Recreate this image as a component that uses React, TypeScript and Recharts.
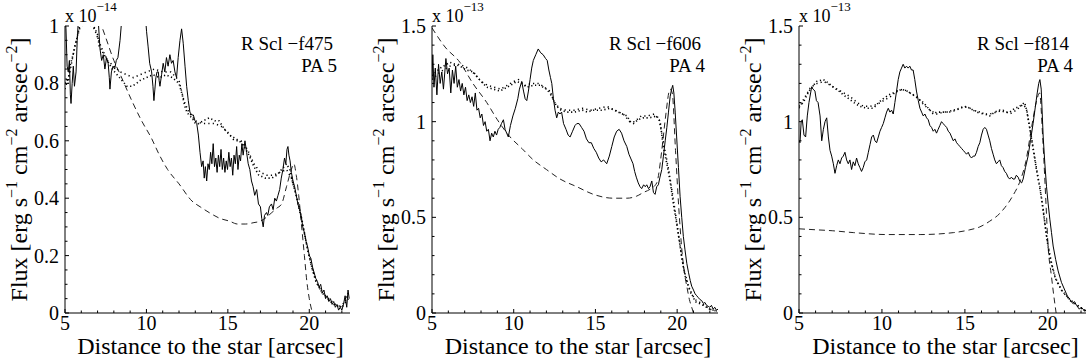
import { LineChart, Line, XAxis, YAxis } from "recharts";

const FONT = "'Liberation Serif', 'Times New Roman', serif";

// [distance arcsec, flux in units of the panel exponent]
const f475Observed: [number, number][] = [
  [5.0, 1.05], [5.06, 0.99], [5.13, 0.86], [5.2, 0.84], [5.27, 0.88], [5.33, 0.76], [5.37, 0.73], [5.44, 0.8],
  [5.51, 0.86], [5.58, 0.79], [5.68, 0.84], [5.75, 0.95], [5.82, 1.02], [6.2, 1.1], [6.8, 1.08], [7.05, 1.01],
  [7.15, 0.92], [7.25, 0.88], [7.35, 0.9], [7.45, 0.85], [7.55, 0.89], [7.65, 0.87], [7.72, 0.82], [7.76, 0.78],
  [7.85, 0.84], [7.95, 0.86], [8.05, 0.85], [8.15, 0.88], [8.25, 0.89], [8.38, 0.95], [8.48, 1.02], [9.0, 1.12],
  [9.9, 1.06], [10.01, 0.98], [10.1, 0.93], [10.2, 0.87], [10.32, 0.84], [10.4, 0.79], [10.46, 0.74], [10.52, 0.78],
  [10.58, 0.82], [10.65, 0.84], [10.73, 0.84], [10.78, 0.81], [10.83, 0.79], [10.93, 0.83], [11.03, 0.87], [11.13, 0.84],
  [11.23, 0.89], [11.33, 0.86], [11.44, 0.9], [11.54, 0.87], [11.64, 0.88], [11.75, 0.84], [11.85, 0.82], [11.95, 0.89],
  [12.06, 0.95], [12.16, 0.99], [12.26, 0.94], [12.37, 0.86], [12.47, 0.79], [12.57, 0.74], [12.67, 0.7], [12.78, 0.69],
  [12.88, 0.69], [12.98, 0.67], [13.09, 0.66], [13.19, 0.62], [13.29, 0.56], [13.39, 0.51], [13.48, 0.53], [13.55, 0.47],
  [13.62, 0.51], [13.7, 0.46], [13.78, 0.52], [13.86, 0.5], [13.94, 0.56], [14.02, 0.52], [14.1, 0.59], [14.18, 0.51],
  [14.26, 0.54], [14.34, 0.49], [14.42, 0.55], [14.5, 0.51], [14.58, 0.57], [14.66, 0.5], [14.74, 0.54], [14.82, 0.49],
  [14.9, 0.53], [14.98, 0.5], [15.06, 0.56], [15.14, 0.51], [15.22, 0.54], [15.3, 0.48], [15.38, 0.55], [15.46, 0.52],
  [15.54, 0.58], [15.62, 0.5], [15.7, 0.55], [15.78, 0.53], [15.86, 0.59], [15.94, 0.55], [16.05, 0.6], [16.15, 0.56],
  [16.25, 0.52], [16.35, 0.5], [16.45, 0.46], [16.55, 0.44], [16.65, 0.41], [16.77, 0.43], [16.88, 0.38], [17.0, 0.37],
  [17.08, 0.33], [17.17, 0.3], [17.25, 0.34], [17.37, 0.35], [17.45, 0.34], [17.55, 0.37], [17.68, 0.38], [17.78, 0.36],
  [17.88, 0.4], [17.98, 0.39], [18.08, 0.41], [18.18, 0.43], [18.28, 0.47], [18.38, 0.5], [18.48, 0.54], [18.56, 0.52],
  [18.63, 0.57], [18.69, 0.58], [18.75, 0.55], [18.82, 0.53], [18.9, 0.49], [19.0, 0.46], [19.1, 0.44], [19.2, 0.41],
  [19.3, 0.38], [19.4, 0.36], [19.5, 0.34], [19.6, 0.3], [19.7, 0.28], [19.8, 0.25], [19.9, 0.23], [20.0, 0.2],
  [20.1, 0.19], [20.2, 0.16], [20.3, 0.14], [20.4, 0.12], [20.5, 0.11], [20.6, 0.09], [20.7, 0.1], [20.8, 0.07],
  [20.9, 0.08], [21.0, 0.05], [21.1, 0.06], [21.2, 0.04], [21.3, 0.05], [21.4, 0.03], [21.5, 0.04], [21.6, 0.02],
  [21.7, 0.03], [21.8, 0.01], [21.9, 0.02], [22.0, 0.01], [22.1, 0.03], [22.2, 0.06], [22.3, 0.02], [22.38, 0.08],
  [22.45, 0.05],
];
const f475ModelA: [number, number][] = [
  [5.0, 0.8], [5.1, 0.82], [5.2, 0.8], [5.3, 0.86], [5.5, 0.9], [5.7, 0.95], [5.9, 1.0], [6.2, 1.03], [6.6, 1.02],
  [7.0, 0.97], [7.1, 0.93], [7.4, 0.9], [7.7, 0.87], [7.9, 0.85], [8.2, 0.83], [8.5, 0.81], [8.8, 0.79], [9.1, 0.79],
  [9.4, 0.8], [9.6, 0.81], [10.0, 0.82], [10.4, 0.83], [10.8, 0.82], [11.2, 0.83], [11.6, 0.82], [12.0, 0.8],
  [12.2, 0.76], [12.4, 0.71], [12.6, 0.69], [12.8, 0.68], [13.0, 0.66], [13.2, 0.66], [13.5, 0.67], [13.85, 0.68],
  [14.2, 0.67], [14.45, 0.67], [14.8, 0.64], [15.1, 0.62], [15.4, 0.61], [15.7, 0.6], [16.0, 0.58], [16.3, 0.55],
  [16.6, 0.51], [16.9, 0.48], [17.3, 0.47], [17.7, 0.47], [18.0, 0.48], [18.3, 0.5], [18.6, 0.52], [18.8, 0.5],
  [19.0, 0.45], [19.3, 0.39], [19.6, 0.31], [19.9, 0.22], [20.2, 0.15], [20.5, 0.1], [20.8, 0.07], [21.1, 0.05],
  [21.5, 0.03], [21.9, 0.02], [22.2, 0.04], [22.4, 0.07],
];
const f475ModelB: [number, number][] = [
  [5.0, 0.78], [5.3, 0.84], [5.6, 0.93], [5.9, 0.99], [6.3, 1.02], [6.8, 0.99], [7.2, 0.93], [7.6, 0.88], [8.0, 0.86],
  [8.4, 0.84], [8.8, 0.83], [9.2, 0.82], [9.6, 0.83], [10.0, 0.84], [10.5, 0.85], [11.0, 0.84], [11.5, 0.84],
  [12.0, 0.81], [12.3, 0.74], [12.6, 0.7], [13.0, 0.67], [13.4, 0.66], [13.8, 0.66], [14.2, 0.66], [14.6, 0.65],
  [15.0, 0.63], [15.4, 0.6], [15.8, 0.6], [16.2, 0.57], [16.6, 0.52], [17.0, 0.49], [17.4, 0.48], [17.8, 0.48],
  [18.2, 0.49], [18.6, 0.5], [18.9, 0.47], [19.2, 0.41], [19.5, 0.33], [19.8, 0.25], [20.1, 0.17], [20.4, 0.11],
  [20.8, 0.07], [21.2, 0.05], [21.6, 0.03], [22.0, 0.02], [22.4, 0.05],
];
const f475Shell: [number, number][] = [
  [6.5, 1.12], [7.0, 1.04], [7.5, 0.96], [8.0, 0.88], [8.4, 0.83], [9.1, 0.74], [9.7, 0.67], [10.3, 0.61],
  [10.8, 0.55], [11.3, 0.5], [12.0, 0.45], [12.8, 0.39], [13.3, 0.37], [13.85, 0.35], [14.5, 0.33], [15.1, 0.32],
  [15.6, 0.31], [16.1, 0.31], [16.6, 0.315], [17.0, 0.32], [17.4, 0.335], [17.7, 0.35], [18.0, 0.365], [18.3, 0.38],
  [18.6, 0.44], [18.9, 0.5], [19.05, 0.52], [19.2, 0.48], [19.35, 0.41], [19.5, 0.32], [19.7, 0.2], [19.85, 0.11],
  [20.0, 0.05], [20.15, 0.01], [20.2, 0],
];

const f606Observed: [number, number][] = [
  [5.0, 1.22], [5.05, 1.35], [5.12, 1.18], [5.2, 1.28], [5.3, 1.14], [5.4, 1.3], [5.5, 1.2], [5.6, 1.26], [5.7, 1.17],
  [5.85, 1.33], [5.95, 1.25], [6.05, 1.28], [6.15, 1.15], [6.25, 1.27], [6.35, 1.2], [6.45, 1.29], [6.55, 1.18],
  [6.65, 1.22], [6.75, 1.16], [6.85, 1.2], [6.95, 1.14], [7.05, 1.18], [7.15, 1.11], [7.25, 1.14], [7.35, 1.1],
  [7.45, 1.13], [7.55, 1.08], [7.65, 1.15], [7.75, 1.06], [7.85, 1.07], [7.95, 1.02], [8.05, 1.04], [8.15, 0.98],
  [8.25, 1.0], [8.35, 0.95], [8.45, 0.96], [8.55, 0.9], [8.65, 0.94], [8.75, 0.92], [8.85, 0.95], [8.95, 0.93],
  [9.05, 0.96], [9.15, 0.97], [9.25, 0.99], [9.37, 1.01], [9.47, 0.96], [9.57, 0.94], [9.67, 0.92], [9.8, 0.98],
  [9.95, 1.03], [10.1, 1.07], [10.25, 1.12], [10.35, 1.17], [10.49, 1.21], [10.6, 1.16], [10.7, 1.12], [10.8, 1.11],
  [10.9, 1.16], [11.0, 1.22], [11.1, 1.28], [11.2, 1.32], [11.35, 1.35], [11.5, 1.38], [11.65, 1.36], [11.8, 1.35],
  [11.95, 1.33], [12.05, 1.32], [12.15, 1.27], [12.25, 1.23], [12.33, 1.2], [12.43, 1.12], [12.53, 1.06], [12.63, 1.02],
  [12.73, 1.05], [12.83, 1.04], [12.93, 1.05], [13.05, 0.99], [13.2, 0.96], [13.33, 0.93], [13.45, 0.92], [13.6, 0.95],
  [13.75, 0.98], [13.86, 0.99], [14.0, 0.99], [14.15, 0.97], [14.3, 0.95], [14.45, 0.91], [14.6, 0.89], [14.75, 0.89],
  [14.9, 0.86], [15.05, 0.84], [15.2, 0.81], [15.35, 0.79], [15.5, 0.8], [15.69, 0.78], [15.85, 0.82], [16.0, 0.87],
  [16.15, 0.92], [16.3, 0.95], [16.45, 0.96], [16.6, 0.94], [16.75, 0.9], [16.92, 0.87], [17.05, 0.83], [17.15, 0.81],
  [17.3, 0.78], [17.4, 0.74], [17.5, 0.71], [17.62, 0.68], [17.73, 0.66], [17.83, 0.65], [17.95, 0.67], [18.05, 0.66],
  [18.14, 0.67], [18.25, 0.65], [18.34, 0.66], [18.45, 0.69], [18.55, 0.63], [18.65, 0.62], [18.75, 0.66],
  [18.85, 0.67], [18.95, 0.71], [19.06, 0.75], [19.16, 0.82], [19.27, 0.9], [19.37, 0.97], [19.47, 1.05], [19.57, 1.13],
  [19.66, 1.17], [19.73, 1.19], [19.8, 1.15], [19.88, 1.05], [19.97, 0.92], [20.08, 0.76], [20.18, 0.61], [20.28, 0.5],
  [20.38, 0.4], [20.48, 0.33], [20.59, 0.26], [20.7, 0.21], [20.8, 0.17], [20.89, 0.14], [21.0, 0.12], [21.1, 0.1],
  [21.2, 0.09], [21.3, 0.08], [21.4, 0.07], [21.5, 0.065], [21.6, 0.05], [21.7, 0.055], [21.8, 0.04], [21.9, 0.035],
  [22.0, 0.03], [22.1, 0.04], [22.2, 0.02], [22.3, 0.03], [22.4, 0.015], [22.5, 0.02],
];
const f606ModelA: [number, number][] = [
  [5.0, 1.24], [5.5, 1.28], [6.1, 1.31], [6.71, 1.29], [7.1, 1.27], [7.53, 1.26], [7.9, 1.22], [8.35, 1.18],
  [8.75, 1.17], [9.16, 1.16], [9.6, 1.18], [10.0, 1.2], [10.18, 1.21], [10.5, 1.2], [10.8, 1.18], [11.2, 1.19],
  [11.61, 1.19], [12.0, 1.17], [12.22, 1.16], [12.45, 1.11], [12.63, 1.08], [12.9, 1.06], [13.24, 1.05], [13.7, 1.05],
  [14.2, 1.06], [14.5, 1.05], [14.88, 1.06], [15.4, 1.06], [15.9, 1.07], [16.4, 1.05], [16.92, 1.03], [17.15, 1.0],
  [17.33, 0.99], [17.6, 1.01], [17.94, 1.02], [18.3, 1.02], [18.76, 1.03], [18.96, 1.0], [19.15, 0.87], [19.37, 0.78],
  [19.57, 0.69], [19.77, 0.57], [19.97, 0.47], [20.18, 0.35], [20.38, 0.24], [20.69, 0.14], [21.1, 0.06], [21.6, 0.04],
  [22.0, 0.02], [22.43, 0.01],
];
const f606ModelB: [number, number][] = [
  [5.0, 1.22], [5.5, 1.26], [6.1, 1.29], [6.7, 1.3], [7.2, 1.28], [7.6, 1.25], [8.0, 1.21], [8.4, 1.19], [8.8, 1.18],
  [9.2, 1.17], [9.6, 1.19], [10.0, 1.21], [10.3, 1.22], [10.7, 1.19], [11.1, 1.2], [11.5, 1.2], [11.9, 1.18],
  [12.2, 1.15], [12.5, 1.1], [12.8, 1.07], [13.2, 1.06], [13.7, 1.06], [14.2, 1.07], [14.7, 1.06], [15.2, 1.07],
  [15.7, 1.08], [16.2, 1.06], [16.7, 1.04], [17.1, 1.0], [17.4, 1.0], [17.8, 1.03], [18.2, 1.03], [18.6, 1.04],
  [18.9, 1.01], [19.1, 0.92], [19.3, 0.83], [19.5, 0.74], [19.7, 0.63], [19.9, 0.52], [20.1, 0.4], [20.3, 0.28],
  [20.5, 0.19], [20.8, 0.11], [21.1, 0.07], [21.5, 0.05], [22.0, 0.02], [22.4, 0.01],
];
const f606Shell: [number, number][] = [
  [5.0, 1.49], [5.8, 1.39], [6.71, 1.31], [7.5, 1.2], [8.35, 1.1], [9.0, 1.01], [9.78, 0.92], [10.5, 0.86],
  [11.2, 0.8], [12.0, 0.75], [12.84, 0.7], [13.86, 0.66], [14.88, 0.62], [16.1, 0.6], [16.92, 0.6], [17.5, 0.61],
  [17.94, 0.63], [18.4, 0.65], [18.75, 0.68], [19.06, 0.85], [19.27, 1.01], [19.57, 1.17], [19.7, 1.15], [19.9, 0.85],
  [20.1, 0.55], [20.3, 0.32], [20.5, 0.18], [20.59, 0.14], [20.75, 0.07], [20.89, 0.03], [21.0, 0],
];

const f814Observed: [number, number][] = [
  [5.0, 0.9], [5.06, 0.89], [5.13, 1.0], [5.2, 1.01], [5.3, 0.93], [5.4, 0.92], [5.5, 1.03], [5.6, 1.1], [5.7, 1.15],
  [5.76, 1.18], [5.85, 1.17], [5.96, 1.16], [6.05, 1.11], [6.15, 1.1], [6.27, 1.03], [6.37, 0.9], [6.47, 0.96],
  [6.57, 1.0], [6.67, 1.02], [6.77, 0.92], [6.87, 0.85], [6.97, 0.82], [7.07, 0.78], [7.17, 0.73], [7.27, 0.77],
  [7.37, 0.8], [7.47, 0.78], [7.57, 0.81], [7.67, 0.82], [7.77, 0.84], [7.87, 0.8], [7.97, 0.78], [8.07, 0.8],
  [8.17, 0.75], [8.27, 0.79], [8.37, 0.77], [8.47, 0.81], [8.57, 0.78], [8.67, 0.76], [8.77, 0.74], [8.87, 0.76],
  [8.97, 0.79], [9.08, 0.8], [9.18, 0.84], [9.28, 0.88], [9.38, 0.92], [9.48, 0.93], [9.58, 0.9], [9.68, 0.89],
  [9.78, 0.92], [9.88, 0.95], [9.98, 0.97], [10.08, 0.99], [10.18, 1.02], [10.28, 1.05], [10.38, 1.07], [10.48, 1.05],
  [10.58, 1.06], [10.68, 1.04], [10.78, 1.1], [10.88, 1.16], [10.98, 1.22], [11.08, 1.26], [11.18, 1.28], [11.28, 1.3],
  [11.38, 1.28], [11.48, 1.29], [11.58, 1.28], [11.68, 1.29], [11.78, 1.27], [11.88, 1.27], [11.98, 1.22], [12.08, 1.16],
  [12.19, 1.11], [12.29, 1.07], [12.39, 1.05], [12.49, 1.03], [12.59, 1.04], [12.69, 1.02], [12.79, 1.01], [12.89, 0.98],
  [12.99, 0.97], [13.09, 0.95], [13.19, 0.96], [13.29, 0.94], [13.39, 0.96], [13.49, 0.98], [13.59, 1.0], [13.69, 0.99],
  [13.79, 0.98], [13.9, 0.97], [14.0, 0.95], [14.1, 0.94], [14.2, 0.92], [14.3, 0.9], [14.4, 0.91], [14.5, 0.89],
  [14.6, 0.88], [14.7, 0.87], [14.8, 0.86], [14.9, 0.85], [15.0, 0.84], [15.1, 0.83], [15.2, 0.84], [15.3, 0.82],
  [15.4, 0.81], [15.5, 0.82], [15.6, 0.82], [15.7, 0.84], [15.8, 0.87], [15.9, 0.89], [16.0, 0.93], [16.1, 0.96],
  [16.2, 0.97], [16.3, 0.96], [16.4, 0.93], [16.5, 0.9], [16.6, 0.86], [16.7, 0.83], [16.8, 0.8], [16.9, 0.78],
  [17.0, 0.79], [17.1, 0.8], [17.2, 0.77], [17.3, 0.76], [17.4, 0.74], [17.5, 0.73], [17.6, 0.71], [17.7, 0.7],
  [17.8, 0.71], [17.9, 0.7], [18.0, 0.7], [18.1, 0.72], [18.21, 0.71], [18.3, 0.69], [18.42, 0.68], [18.51, 0.7],
  [18.65, 0.76], [18.81, 0.82], [18.95, 0.9], [19.11, 0.99], [19.25, 1.08], [19.36, 1.15], [19.45, 1.2], [19.52, 1.22],
  [19.6, 1.17], [19.72, 0.92], [19.82, 0.78], [19.92, 0.66], [20.02, 0.57], [20.12, 0.49], [20.22, 0.42], [20.32, 0.35],
  [20.47, 0.28], [20.62, 0.22], [20.82, 0.16], [21.02, 0.12], [21.17, 0.09], [21.33, 0.07], [21.5, 0.05], [21.6, 0.06],
  [21.73, 0.04], [21.9, 0.02], [22.0, 0.03], [22.13, 0.02], [22.2, 0.01], [22.3, 0.015],
];
const f814ModelA: [number, number][] = [
  [5.0, 1.08], [5.26, 1.1], [5.6, 1.16], [6.06, 1.21], [6.47, 1.22], [6.8, 1.2], [7.07, 1.18], [7.4, 1.16],
  [7.67, 1.14], [8.0, 1.12], [8.3, 1.1], [8.67, 1.08], [9.1, 1.07], [9.48, 1.07], [9.8, 1.1], [10.08, 1.12],
  [10.4, 1.14], [10.68, 1.15], [11.0, 1.16], [11.18, 1.17], [11.5, 1.16], [11.88, 1.14], [12.2, 1.12], [12.49, 1.1],
  [12.8, 1.07], [13.09, 1.04], [13.3, 1.05], [13.5, 1.05], [13.9, 1.05], [14.3, 1.06], [14.7, 1.07], [15.1, 1.08],
  [15.5, 1.06], [15.9, 1.05], [16.2, 1.04], [16.5, 1.03], [16.8, 1.05], [17.1, 1.06], [17.4, 1.05], [17.7, 1.05],
  [18.0, 1.07], [18.3, 1.08], [18.6, 1.1], [18.75, 1.05], [18.9, 0.97], [19.11, 0.86], [19.31, 0.75], [19.52, 0.66],
  [19.72, 0.54], [19.92, 0.4], [20.12, 0.29], [20.42, 0.19], [20.82, 0.12], [21.33, 0.07], [21.8, 0.04], [22.3, 0.01],
];
const f814ModelB: [number, number][] = [
  [5.0, 1.07], [5.3, 1.12], [5.7, 1.18], [6.1, 1.2], [6.5, 1.21], [6.9, 1.19], [7.3, 1.17], [7.7, 1.15], [8.1, 1.13],
  [8.5, 1.1], [8.9, 1.08], [9.3, 1.08], [9.7, 1.09], [10.1, 1.11], [10.5, 1.13], [10.9, 1.16], [11.3, 1.17],
  [11.7, 1.15], [12.1, 1.13], [12.5, 1.09], [12.9, 1.06], [13.3, 1.04], [13.7, 1.05], [14.1, 1.05], [14.5, 1.06],
  [14.9, 1.08], [15.3, 1.07], [15.7, 1.05], [16.1, 1.04], [16.5, 1.04], [16.9, 1.05], [17.3, 1.06], [17.7, 1.04],
  [18.1, 1.06], [18.5, 1.09], [18.7, 1.07], [18.95, 0.95], [19.2, 0.82], [19.4, 0.71], [19.6, 0.61], [19.8, 0.48],
  [20.0, 0.36], [20.25, 0.25], [20.5, 0.17], [20.9, 0.11], [21.4, 0.06], [21.9, 0.03], [22.3, 0.01],
];
const f814Shell: [number, number][] = [
  [5.0, 0.44], [6.0, 0.435], [7.0, 0.43], [8.3, 0.42], [10.3, 0.41], [12.3, 0.41], [14.3, 0.42], [15.3, 0.435],
  [15.9, 0.45], [16.5, 0.48], [17.1, 0.52], [17.4, 0.55], [17.87, 0.61], [18.37, 0.7], [18.67, 0.79], [19.0, 0.96],
  [19.3, 1.1], [19.5, 1.15], [19.7, 0.9], [19.9, 0.55], [20.0, 0.37], [20.22, 0.19], [20.42, 0.05], [20.5, 0],
];

const xTicks = [5, 6, 7, 8, 9, 10, 11, 12, 13, 14, 15, 16, 17, 18, 19, 20, 21, 22];
const yTicksBlue = [0, 0.05, 0.1, 0.15, 0.2, 0.25, 0.3, 0.35, 0.4, 0.45, 0.5, 0.55, 0.6, 0.65, 0.7, 0.75, 0.8, 0.85, 0.9, 0.95, 1];
const yTicksRed = [0, 0.1, 0.2, 0.3, 0.4, 0.5, 0.6, 0.7, 0.8, 0.9, 1, 1.1, 1.2, 1.3, 1.4, 1.5];

const toPts = (rows: [number, number][]) => rows.map(([d, v]) => ({ d, v }));
const isMajor = (v: number, step: number) => Math.abs(v / step - Math.round(v / step)) < 1e-6;

type Panel = {
  filter: string;
  pa: string;
  exp: string;
  left: number;
  width: number;
  yAxisWidth: number;
  rightMargin: number;
  xMax: number;
  yMax: number;
  yTicks: number[];
  yStep: number;
  observed: [number, number][];
  modelA: [number, number][];
  modelB: [number, number][];
  shell: [number, number][];
};

const panels: Panel[] = [
  {
    filter: "R Scl −f475", pa: "PA 5", exp: "−14", left: 0, width: 360, yAxisWidth: 65, rightMargin: 10,
    xMax: 22.5, yMax: 1, yTicks: yTicksBlue, yStep: 0.2,
    observed: f475Observed, modelA: f475ModelA, modelB: f475ModelB, shell: f475Shell,
  },
  {
    filter: "R Scl −f606", pa: "PA 4", exp: "−13", left: 360, width: 370, yAxisWidth: 72, rightMargin: 12,
    xMax: 22.5, yMax: 1.5, yTicks: yTicksRed, yStep: 0.5,
    observed: f606Observed, modelA: f606ModelA, modelB: f606ModelB, shell: f606Shell,
  },
  {
    filter: "R Scl −f814", pa: "PA 4", exp: "−13", left: 720, width: 367, yAxisWidth: 79, rightMargin: 1,
    xMax: 22.3, yMax: 1.5, yTicks: yTicksRed, yStep: 0.5,
    observed: f814Observed, modelA: f814ModelA, modelB: f814ModelB, shell: f814Shell,
  },
];

const H = 360;
const TOP = 26;
const X_AXIS_H = 47;

function FluxPanel({ p }: { p: Panel }) {
  const plotRight = p.width - p.rightMargin;

  const bottomTick = (props: any) => {
    const { x, y, payload } = props;
    const major = isMajor(payload.value, 5);
    return (
      <g>
        <line x1={x} x2={x} y1={y} y2={y - (major ? 4 : 2.5)} stroke="#000" />
        {major && (
          <text x={x} y={y + 17} textAnchor="middle" fontFamily={FONT} fontSize={20} fill="#000">
            {payload.value}
          </text>
        )}
      </g>
    );
  };
  const topTick = (props: any) => {
    const { x, y, payload } = props;
    const len = isMajor(payload.value, 5) ? 4 : 2.5;
    return <line x1={x} x2={x} y1={y} y2={y + len} stroke="#000" />;
  };
  const leftTick = (props: any) => {
    const { x, y, payload } = props;
    const major = isMajor(payload.value, p.yStep);
    return (
      <g>
        <line x1={x} x2={x + (major ? 4 : 2.5)} y1={y} y2={y} stroke="#000" />
        {major && (
          <text x={x - 6} y={y + 7} textAnchor="end" fontFamily={FONT} fontSize={20} fill="#000">
            {payload.value}
          </text>
        )}
      </g>
    );
  };
  const rightTick = (props: any) => {
    const { x, y, payload } = props;
    const len = isMajor(payload.value, p.yStep) ? 4 : 2.5;
    return <line x1={x} x2={x - len} y1={y} y2={y} stroke="#000" />;
  };

  const yLabel = (props: any) => {
    const vb = props.viewBox;
    const cy = vb.y + vb.height / 2;
    const bx = p.yAxisWidth - 38;
    return (
      <g fontFamily={FONT} fill="#000">
        <text transform={`translate(${bx},${cy}) rotate(-90)`} textAnchor="middle" fontSize={24}>
          Flux [erg s<tspan dy={-10} fontSize={16}>−1</tspan>
          <tspan dy={10}> cm</tspan>
          <tspan dy={-10} fontSize={16}>−2</tspan>
          <tspan dy={10}> arcsec</tspan>
          <tspan dy={-10} fontSize={16}>−2</tspan>
          <tspan dy={10}>]</tspan>
        </text>
        <text x={p.yAxisWidth} y={22} fontSize={18}>
          x 10<tspan dy={-11} fontSize={13}>{p.exp}</tspan>
        </text>
        <text x={plotRight - 17} y={50} textAnchor="end" fontSize={19}>{p.filter}</text>
        <text x={plotRight - 13} y={72} textAnchor="end" fontSize={19}>{p.pa}</text>
      </g>
    );
  };
  const xLabel = (props: any) => {
    const vb = props.viewBox;
    return (
      <text x={vb.x + vb.width / 2 + 3} y={vb.y + 41} textAnchor="middle" fontFamily={FONT} fontSize={24} fill="#000">
        Distance to the star [arcsec]
      </text>
    );
  };

  return (
    <div style={{ position: "absolute", left: p.left, top: 0 }}>
      <LineChart width={p.width} height={H} margin={{ top: TOP, right: p.rightMargin, bottom: 0, left: 0 }}>
        <XAxis
          type="number" dataKey="d" domain={[5, p.xMax]} allowDataOverflow ticks={xTicks} interval={0}
          height={X_AXIS_H} tickSize={0} tickMargin={0} tick={bottomTick} axisLine={{ stroke: "#000" }}
          label={{ content: xLabel }}
        />
        <XAxis
          xAxisId="top" orientation="top" type="number" dataKey="d" domain={[5, p.xMax]} allowDataOverflow
          ticks={xTicks} interval={0} height={0} tickSize={0} tickMargin={0} tick={topTick} axisLine={{ stroke: "#000" }}
        />
        <YAxis
          type="number" domain={[0, p.yMax]} allowDataOverflow ticks={p.yTicks} interval={0} width={p.yAxisWidth}
          tickSize={0} tickMargin={0} tick={leftTick} axisLine={{ stroke: "#000" }} label={{ content: yLabel }}
        />
        <YAxis
          yAxisId="right" orientation="right" type="number" domain={[0, p.yMax]} allowDataOverflow ticks={p.yTicks}
          interval={0} width={0} tickSize={0} tickMargin={0} tick={rightTick} axisLine={{ stroke: "#000" }}
        />
        <Line data={toPts(p.shell)} dataKey="v" type="monotone" stroke="#222" strokeWidth={1}
          strokeDasharray="6 4" dot={false} activeDot={false} isAnimationActive={false} />
        <Line data={toPts(p.modelB)} dataKey="v" type="linear" stroke="#000" strokeWidth={1.5}
          strokeDasharray="1.2 3.2" dot={false} activeDot={false} isAnimationActive={false} />
        <Line data={toPts(p.modelA)} dataKey="v" type="linear" stroke="#000" strokeWidth={1.6}
          strokeDasharray="1.2 2.6" dot={false} activeDot={false} isAnimationActive={false} />
        <Line data={toPts(p.observed)} dataKey="v" type="linear" stroke="#000" strokeWidth={1}
          dot={false} activeDot={false} isAnimationActive={false} />
      </LineChart>
    </div>
  );
}

export default function App() {
  return (
    <div style={{ position: "absolute", left: 0, top: 0, width: 1087, height: H, background: "#fff", overflow: "hidden" }}>
      {panels.map((p) => (
        <FluxPanel key={p.filter} p={p} />
      ))}
    </div>
  );
}
